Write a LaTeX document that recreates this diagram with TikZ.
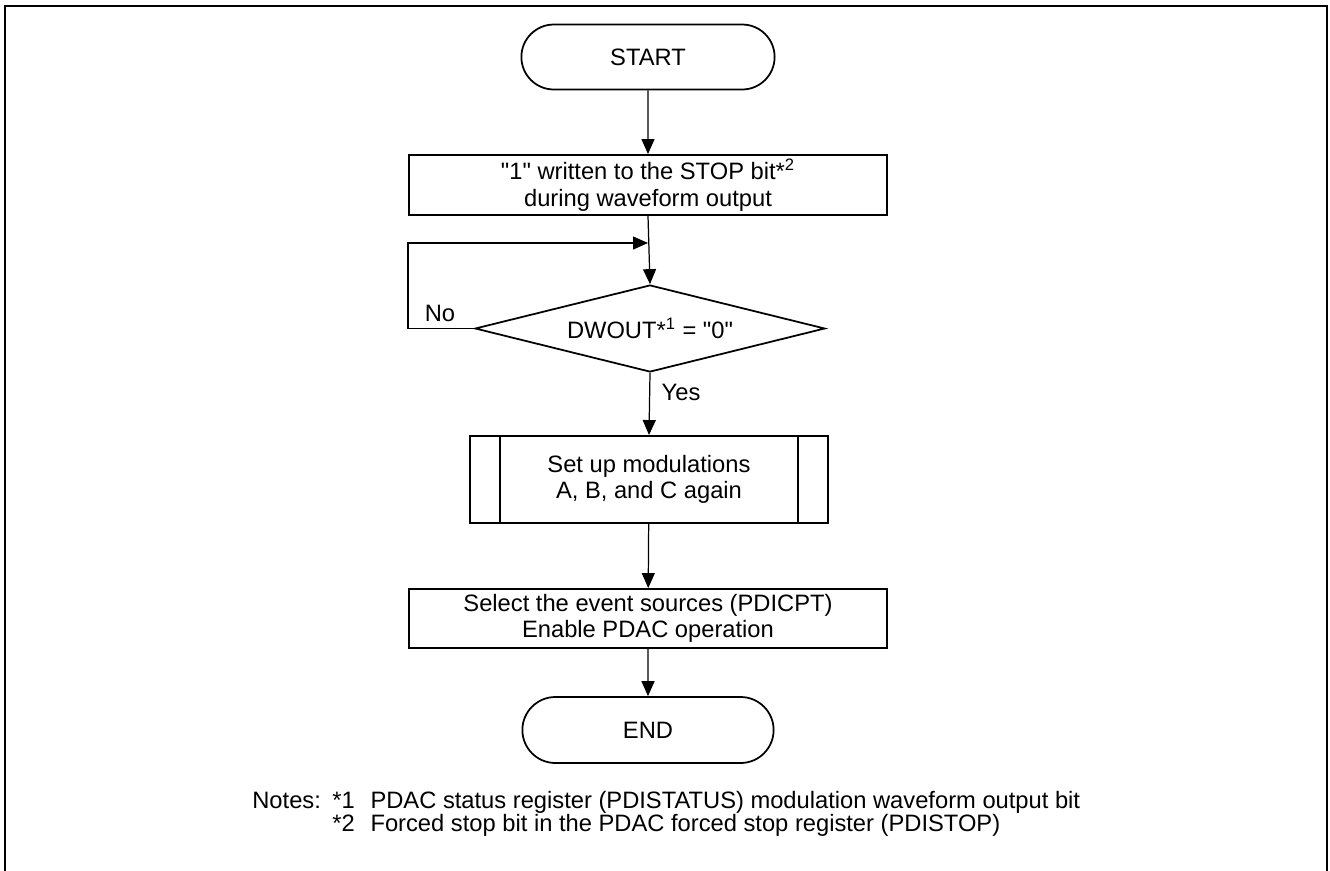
\documentclass[tikz,border=0pt]{standalone}
\usepackage{fontspec}
\setmainfont{Liberation Sans}
\usetikzlibrary{arrows.meta,shapes.geometric,shapes.misc}

\begin{document}
\begin{tikzpicture}[x=0.02cm, y=-0.02cm, >={Triangle[length=0.3cm,width=0.26cm]},
    every node/.style={font=\fontsize{13.5}{15.2}\selectfont, align=center},
    term/.style={draw, line width=1pt, rounded rectangle, minimum width=5.3cm, minimum height=1.3cm},
    proc/.style={draw, line width=1.1pt, rectangle, minimum width=9.58cm, minimum height=1.2cm, inner sep=0pt},
    decide/.style={draw, line width=1pt, diamond, aspect=4, minimum width=7cm, minimum height=1.74cm, inner sep=0pt},
    link/.style={->, line width=0.7pt}]
				% 1. 外框
				\useasboundingbox (0,0) rectangle (1330,870);
				\draw[line width=1.6pt] (5,872) -- (5,6) -- (1327,6) -- (1327,872);
				
				% 2. 流程节点
				\node[term] (start) at (648,57) {START};
				\node[proc] (stopbit) at (648,185) {\textquotedbl1\textquotedbl{} written to the STOP bit*\textsuperscript{2}\\during waveform output};
				\node[decide] (dwout) at (650,328.5) {DWOUT*\textsuperscript{1} = \textquotedbl0\textquotedbl};
				\node[proc, minimum width=7.16cm, minimum height=1.74cm] (setup) at (649,479.5) {Set up modulations\\A, B, and C again};
				\draw[line width=1.1pt] ([xshift=0.62cm]setup.north west) -- ([xshift=0.62cm]setup.south west);
				\draw[line width=1.1pt] ([xshift=-0.62cm]setup.north east) -- ([xshift=-0.62cm]setup.south east);
				\node[proc, minimum height=1.18cm] (enable) at (648,618.5) {Select the event sources (PDICPT)\\Enable PDAC operation};
				\node[term, minimum width=5.26cm, minimum height=1.32cm] (end) at (648,730) {END};
				
				% 3. 连线
				\coordinate (merge) at (648,243);
				\coordinate (loop) at (408,328.5);
				\draw[link] (start) -- (stopbit);
				\draw[link] (stopbit.south) -- (dwout.north);
				\draw[link] (dwout.west) -- (loop) |- (merge);
				\draw[link] (dwout.south) -- (setup.north);
				\draw[link] (setup) -- (enable);
				\draw[link] (enable) -- (end);
				\node (no) at (440,313) {No};
				\node (yes) at (681,392) {Yes};
				
				% 4. 注释
				\node[anchor=base west, align=left, inner sep=0pt, font=\fontsize{13.5}{12}\selectfont] (notes) at (252,808)
				  {\begin{tabular}[t]{@{}l@{\hspace{6.5pt}}l@{\hspace{9pt}}l@{}}
				   Notes: & *1 & PDAC status register (PDISTATUS) modulation waveform output bit\\
				          & *2 & Forced stop bit in the PDAC forced stop register (PDISTOP)
				   \end{tabular}};
			\end{tikzpicture}
\end{document}
